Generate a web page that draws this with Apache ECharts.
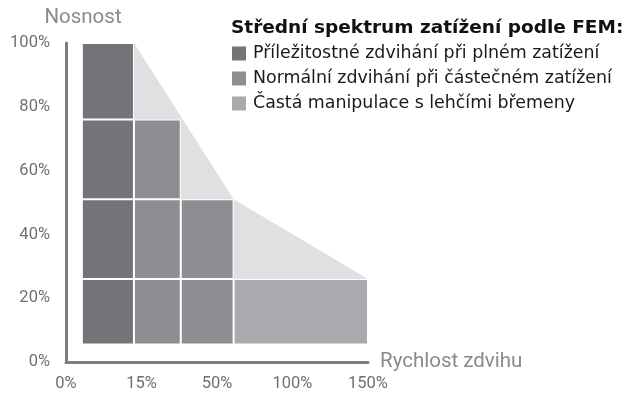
<!DOCTYPE html>
<html>
<head>
<meta charset="utf-8">
<script src="https://cdn.jsdelivr.net/npm/echarts@6/dist/echarts.min.js"></script>
<style>
  html, body { margin: 0; padding: 0; background: #ffffff; }
  #chart { width: 643px; height: 396px; }
</style>
</head>
<body>
<div id="chart"></div>
<script>
// Speed tick labels (evenly spaced positions 0..4 on the x axis)
const speedTicks = ['0%', '15%', '50%', '100%', '150%'];
// Column edges along the speed axis
const columnEdges = [0.21, 0.9, 1.52, 2.22, 4.0];
// Load levels separating the cell rows (%)
const loadLevels = [5.5, 26, 51, 76, 100];
// Top load level reached by each column (%)
const columnTops = [100, 76, 51, 26];
// Which load-spectrum group each column belongs to
const columnGroup = [0, 1, 1, 2];
// Outline of the light envelope above the columns
const envelopeTop = [[0.9, 100], [2.22, 51], [4.0, 26]];

const groupNames = [
  'Příležitostné zdvihání při plném zatížení',
  'Normální zdvihání při částečném zatížení',
  'Častá manipulace s lehčími břemeny'
];
const groupColors = ['#737478', '#8d8e91', '#a9aaad'];

// Build cells [x0, x1, yBottom, yTop] per group
const groupCells = groupNames.map(() => []);
columnTops.forEach((top, c) => {
  for (let r = 0; r < loadLevels.length - 1; r++) {
    if (loadLevels[r + 1] <= top) {
      groupCells[columnGroup[c]].push([columnEdges[c], columnEdges[c + 1], loadLevels[r], loadLevels[r + 1]]);
    }
  }
});

// Envelope polygon: slope on top, column staircase underneath
const envelopePoly = envelopeTop.slice();
for (let c = columnTops.length - 1; c >= 1; c--) {
  envelopePoly.push([columnEdges[c + 1], columnTops[c]]);
  envelopePoly.push([columnEdges[c], columnTops[c]]);
}

function cellRenderer(params, api) {
  const p0 = api.coord([api.value(0), api.value(3)]);
  const p1 = api.coord([api.value(1), api.value(2)]);
  return {
    type: 'rect',
    shape: { x: p0[0] + 1, y: p0[1] + 1, width: p1[0] - p0[0] - 2, height: p1[1] - p0[1] - 2 },
    style: { fill: api.visual('color') }
  };
}

const series = [{
  type: 'custom',
  silent: true,
  z: 1,
  data: [0],
  renderItem: function (params, api) {
    return {
      type: 'polygon',
      shape: { points: envelopePoly.map(p => api.coord(p)) },
      style: { fill: '#dfe0e1' }
    };
  }
}];
groupNames.forEach((name, g) => {
  series.push({
    type: 'custom',
    name: name,
    z: 2,
    itemStyle: { color: groupColors[g] },
    data: groupCells[g],
    renderItem: cellRenderer
  });
});

const axisFont = 'Roboto';
const axisColor = '#7d7e81';
const chart = echarts.init(document.getElementById('chart'), null, { renderer: 'canvas' });
chart.setOption({
  animation: false,
  backgroundColor: '#ffffff',
  title: {
    text: 'Střední spektrum zatížení podle FEM:',
    left: 231,
    top: 19,
    padding: 0,
    textStyle: { fontFamily: 'DejaVu Sans', fontWeight: 'bold', fontSize: 18.5, color: '#111111' }
  },
  legend: {
    orient: 'vertical',
    left: 232,
    top: 45,
    padding: 0,
    icon: 'rect',
    itemWidth: 14,
    itemHeight: 14,
    itemGap: 8,
    selectedMode: false,
    textStyle: { fontFamily: 'DejaVu Sans', fontSize: 17.4, lineHeight: 16, color: '#1a1a1a', padding: [0, 0, 0, 2] },
    data: groupNames
  },
  grid: { left: 66, right: 275, top: 43, bottom: 34, containLabel: false },
  xAxis: {
    type: 'value',
    min: 0,
    max: 4,
    interval: 1,
    name: 'Rychlost zdvihu',
    nameLocation: 'end',
    nameGap: 12,
    nameTextStyle: { fontFamily: axisFont, fontSize: 20.5, color: '#8a8a8a', padding: [0, 0, 18, 0] },
    axisLine: { show: true, lineStyle: { color: axisColor, width: 3 } },
    axisTick: { show: false },
    splitLine: { show: false },
    axisLabel: {
      margin: 13,
      fontFamily: axisFont,
      fontSize: 16.5,
      color: '#707070',
      formatter: v => speedTicks[v] || ''
    }
  },
  yAxis: {
    type: 'value',
    min: 0,
    max: 100,
    interval: 20,
    name: 'Nosnost',
    nameLocation: 'end',
    nameGap: 15,
    nameTextStyle: { fontFamily: axisFont, fontSize: 20.5, color: '#8a8a8a', align: 'center', padding: [0, 0, 0, 34] },
    axisLine: { show: true, lineStyle: { color: axisColor, width: 3 } },
    axisTick: { show: false },
    splitLine: { show: false },
    axisLabel: { margin: 16, fontFamily: axisFont, fontSize: 16.5, color: '#707070', formatter: '{value}%' }
  },
  series: series
});
</script>
</body>
</html>
